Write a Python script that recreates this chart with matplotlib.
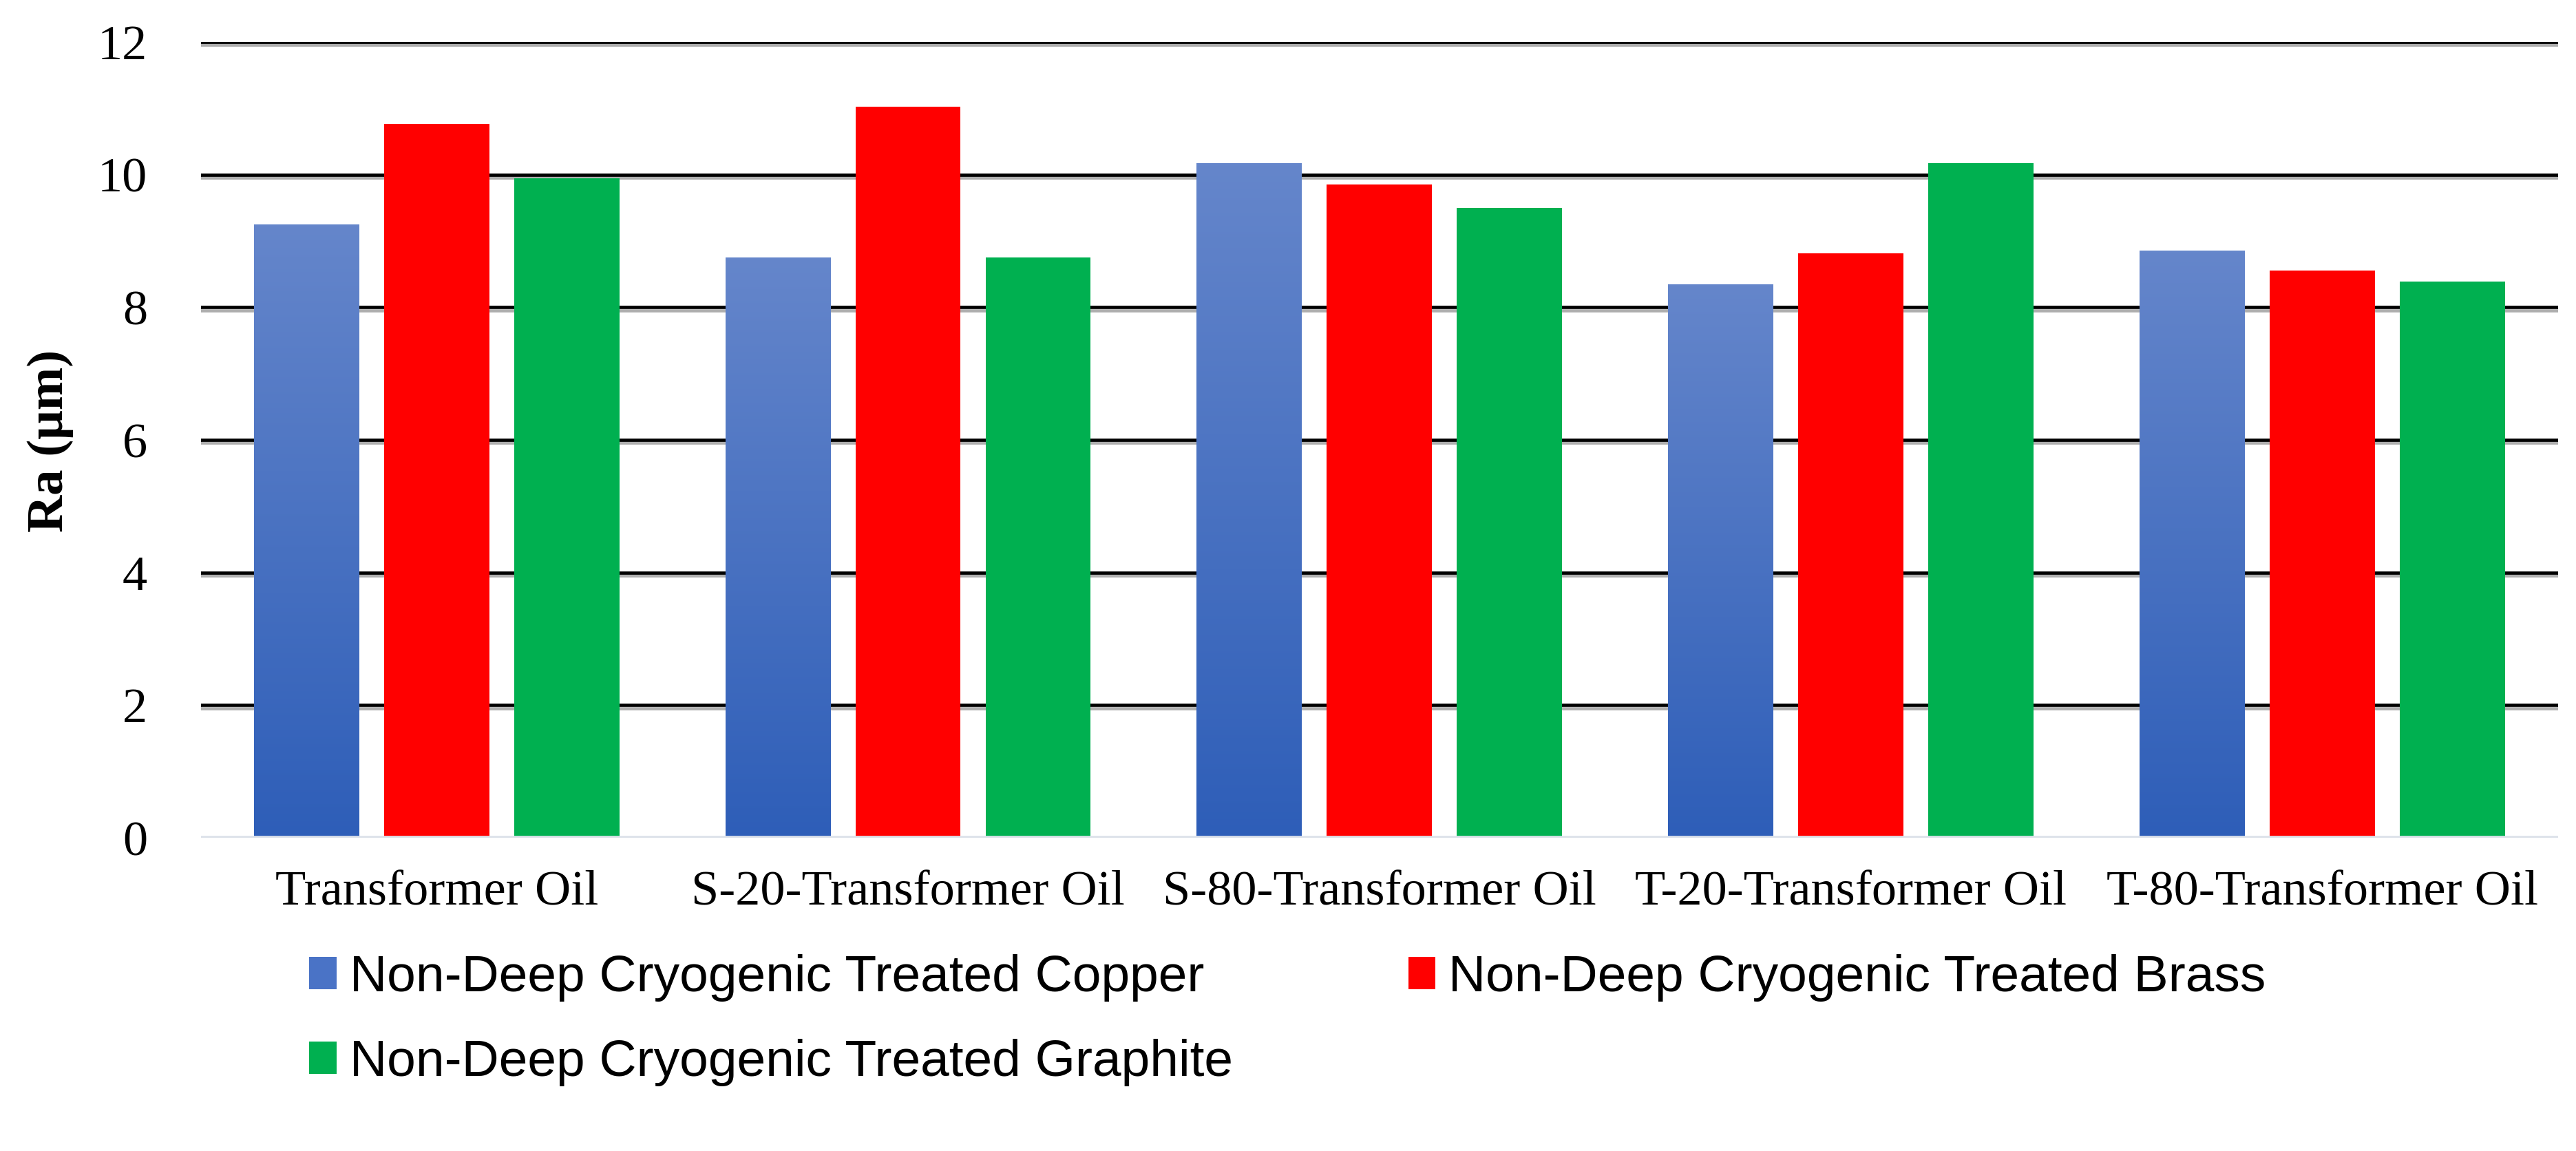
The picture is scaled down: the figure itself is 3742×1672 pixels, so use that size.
import numpy as np
import matplotlib
matplotlib.use('Agg')
import matplotlib.pyplot as plt
import matplotlib.patheffects as pe
from matplotlib.colors import LinearSegmentedColormap

# data
categories = ['Transformer Oil', 'S-20-Transformer Oil', 'S-80-Transformer Oil',
              'T-20-Transformer Oil', 'T-80-Transformer Oil']
copper = [9.25, 8.75, 10.17, 8.35, 8.85]
brass = [10.76, 11.02, 9.85, 8.81, 8.55]
graphite = [9.95, 8.75, 9.50, 10.17, 8.39]
series_names = ['Non-Deep Cryogenic Treated Copper',
                'Non-Deep Cryogenic Treated Brass',
                'Non-Deep Cryogenic Treated Graphite']
y_ticks = [0, 2, 4, 6, 8, 10, 12]

fig = plt.figure(figsize=(18.71, 8.36), dpi=200)
ax = fig.add_axes([0.078, 0.2721, 0.915, 0.6914])

x = np.arange(len(categories))
w = 0.223
step = 0.276

bars_cu = ax.bar(x - step, copper, width=w, color='#4A73C6', label=series_names[0], zorder=3)
bars_br = ax.bar(x, brass, width=w, color='#FF0000', label=series_names[1], zorder=3)
bars_gr = ax.bar(x + step, graphite, width=w, color='#00B050', label=series_names[2], zorder=3)

# vertical gradient on the copper bars (light on top, darker at the bottom)
blue_grad = LinearSegmentedColormap.from_list('bg', ['#2E5EB8', '#6586CB'])
grad = np.linspace(0, 1, 256).reshape(-1, 1)
for b in bars_cu:
    x0, h, bw = b.get_x(), b.get_height(), b.get_width()
    im = ax.imshow(grad, cmap=blue_grad, origin='lower', aspect='auto',
                   extent=[x0, x0 + bw, 0, h], zorder=3.5, vmin=0, vmax=1)
    im.set_clip_path(b)

ax.set_xlim(-0.5, len(categories) - 0.5)
ax.set_ylim(0, 12)
ax.set_yticks(y_ticks)
ax.set_xticks(x)
ax.set_xticklabels(categories)

for s in ax.spines.values():
    s.set_visible(False)

# grid lines with a soft grey shadow
for t in y_ticks[1:]:
    ax.axhline(t, color='black', lw=1.7, zorder=2,
               path_effects=[pe.SimpleLineShadow(offset=(0, -1.6), shadow_color='#9a9a9a', alpha=0.8, rho=1),
                             pe.Normal()])
ax.axhline(0, color='#DDE2EA', lw=2.4, zorder=4)

ax.tick_params(axis='both', length=0, labelsize=26)
ax.tick_params(axis='y', pad=28)
ax.tick_params(axis='x', pad=17)
for lab in ax.get_xticklabels() + ax.get_yticklabels():
    lab.set_fontfamily('Liberation Serif')

fig.text(0.0195, 0.617, 'Ra (μm)', rotation=90, ha='center', va='center',
         fontsize=27, fontweight='bold', family='Liberation Serif')

# column-major fill: copper / graphite in the first column, brass in the second
leg = fig.legend(handles=[bars_cu, bars_gr, bars_br],
                 labels=[series_names[0], series_names[2], series_names[1]],
                 loc='upper left', bbox_to_anchor=(0.12, 0.171), ncol=2, frameon=False,
                 prop={'family': 'Liberation Sans', 'size': 27},
                 handlelength=0.53, handleheight=0.6, handletextpad=0.25,
                 columnspacing=3.4, labelspacing=0.72, borderpad=0, borderaxespad=0)

plt.savefig('out.png', dpi=200)
